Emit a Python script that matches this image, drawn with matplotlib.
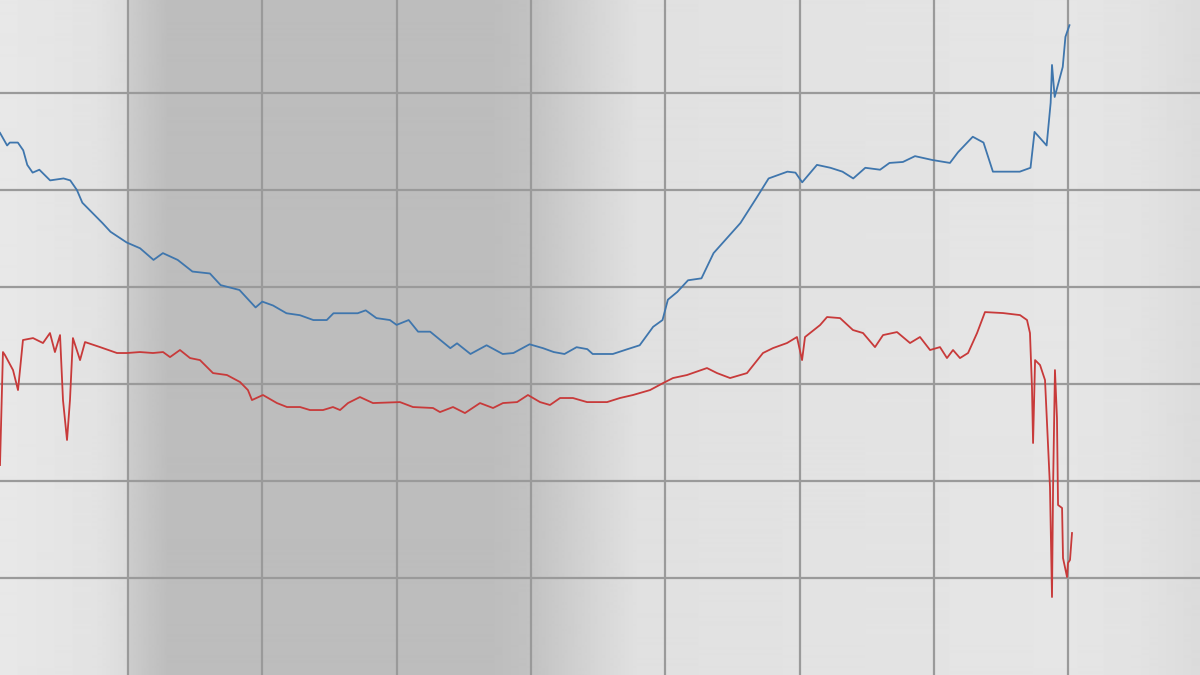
import matplotlib
matplotlib.use("Agg")
import matplotlib.pyplot as plt
import numpy as np

# --- data (grid every 10 units on both axes) ---
blue_x = [-9.53, -9.0, -8.8, -8.2, -7.8, -7.5, -7.1, -6.6, -5.8, -4.8, -4.3, -3.8, -3.4,
          -1.9, -1.3, -0.1, 0.9, 1.9, 2.6, 3.7, 4.8, 6.1, 6.9, 8.3, 9.5, 10.0, 10.8, 11.8,
          12.8, 13.8, 14.8, 15.3, 16.5, 17.1, 17.7, 18.5, 19.5, 20.0, 20.9, 21.6, 22.5,
          24.0, 24.5, 25.5, 26.7, 27.9, 28.7, 29.9, 30.9, 31.7, 32.5, 33.4, 34.2, 34.6,
          36.1, 37.2, 38.1, 39.1, 39.8, 40.2, 40.9, 41.7, 42.7, 43.6, 45.6, 46.8, 47.7,
          49.1, 49.7, 50.2, 51.3, 52.3, 53.2, 54.0, 54.9, 56.0, 56.7, 57.7, 58.6, 59.9,
          61.2, 61.8, 62.9, 63.7, 64.4, 66.4, 67.2, 67.5, 68.4, 68.7, 68.8, 69.0, 69.6,
          69.8, 70.1]
blue_y = [45.9, 44.6, 44.9, 44.9, 44.1, 42.6, 41.8, 42.1, 41.0, 41.2, 41.0, 40.0, 38.7,
          36.6, 35.7, 34.6, 34.0, 32.8, 33.5, 32.8, 31.6, 31.4, 30.2, 29.7, 27.9, 28.5,
          28.1, 27.3, 27.1, 26.6, 26.6, 27.3, 27.3, 27.3, 27.6, 26.8, 26.6, 26.1, 26.6,
          25.4, 25.4, 23.7, 24.2, 23.1, 24.0, 23.1, 23.2, 24.1, 23.7, 23.3, 23.1, 23.8,
          23.6, 23.1, 23.1, 23.6, 24.0, 25.9, 26.6, 28.7, 29.5, 30.7, 30.9, 33.5, 36.6,
          39.2, 41.2, 41.9, 41.8, 40.8, 42.6, 42.3, 41.9, 41.2, 42.3, 42.1, 42.8, 42.9,
          43.5, 43.1, 42.8, 43.9, 45.5, 44.9, 41.9, 41.9, 42.3, 46.0, 44.6, 49.0, 52.9,
          49.6, 52.7, 55.8, 57.0]

red_x = [-9.53, -9.31, -9.16, -8.56, -8.19, -7.82, -7.07, -6.33, -5.81, -5.44, -5.06,
         -4.84, -4.54, -4.32, -4.10, -3.57, -3.20, -2.08, -0.82, -0.07, 0.89, 1.86, 2.61,
         3.13, 3.87, 4.62, 5.36, 6.33, 7.37, 8.34, 8.93, 9.23, 10.05, 11.09, 11.84, 12.81,
         13.55, 14.52, 15.26, 15.79, 16.38, 17.27, 18.24, 20.25, 21.22, 22.71, 23.23,
         24.20, 25.09, 26.21, 27.18, 27.92, 28.97, 29.78, 30.68, 31.42, 32.17, 33.13,
         34.18, 35.67, 36.63, 37.60, 38.87, 39.84, 40.58, 41.62, 43.11, 43.86, 44.83,
         46.09, 47.28, 48.03, 49.07, 49.81, 50.19, 50.41, 51.53, 52.05, 53.02, 53.98,
         54.73, 55.62, 56.22, 57.26, 58.23, 58.97, 59.72, 60.46, 60.98, 61.43, 61.95,
         62.55, 63.22, 63.81, 65.15, 66.42, 66.94, 67.16, 67.31, 67.39, 67.54, 67.91,
         68.28, 68.65, 68.80, 68.88, 69.02, 69.17, 69.25, 69.55, 69.62, 69.92, 69.99,
         70.14, 70.29]
red_y = [11.65, 23.30, 22.99, 21.44, 19.38, 24.54, 24.74, 24.23, 25.26, 23.30, 25.05,
         18.35, 14.23, 18.35, 24.74, 22.47, 24.33, 23.81, 23.20, 23.20, 23.30, 23.20, 23.30,
         22.78, 23.51, 22.68, 22.47, 21.13, 20.93, 20.21, 19.38, 18.35, 18.87, 18.04, 17.63,
         17.63, 17.32, 17.32, 17.63, 17.32, 18.04, 18.66, 18.04, 18.14, 17.63, 17.53, 17.11,
         17.63, 17.01, 18.04, 17.53, 18.04, 18.14, 18.87, 18.14, 17.84, 18.56, 18.56, 18.14,
         18.14, 18.56, 18.87, 19.38, 20.10, 20.62, 20.93, 21.65, 21.13, 20.62, 21.13, 23.20,
         23.71, 24.23, 24.85, 22.47, 24.85, 26.08, 26.91, 26.80, 25.57, 25.26, 23.81, 25.05,
         25.36, 24.23, 24.85, 23.51, 23.81, 22.68, 23.51, 22.68, 23.20, 25.26, 27.42, 27.32,
         27.11, 26.60, 25.26, 19.59, 13.92, 22.47, 21.96, 20.41, 9.38, -1.96, 9.38, 21.44,
         16.49, 7.53, 7.22, 2.06, 0.10, 1.55, 1.86, 4.64]

x_grid = np.arange(0, 80, 10)
y_grid = np.arange(0, 60, 10)

# --- figure ---
fig = plt.figure(figsize=(12, 6.75), dpi=100)
ax = fig.add_axes([0, 0, 1, 1])
xlim = (-9.53, 79.82)
ylim = (-10.0, 59.6)

# background: light panel with a darker band and soft edges
bg_pos = [xlim[0], -2.5, -0.1, 0.1, 3.0, 27.0, 30.0, 35.0, 38.0, 70.0, 75.0, xlim[1]]
bg_val = [0.91, 0.89, 0.86, 0.80, 0.74, 0.74, 0.76, 0.84, 0.88, 0.90, 0.89, 0.86]
xs = np.linspace(xlim[0], xlim[1], 1200)
shade = np.interp(xs, bg_pos, bg_val)
ax.imshow(shade[np.newaxis, :], cmap="gray", vmin=0, vmax=1, aspect="auto",
          extent=(xlim[0], xlim[1], ylim[0], ylim[1]), interpolation="bilinear", zorder=0)

for gx in x_grid:
    ax.axvline(gx, color="#9a9a9a", lw=1.6, zorder=1)
for gy in y_grid:
    ax.axhline(gy, color="#9a9a9a", lw=1.6, zorder=1)

ax.plot(blue_x, blue_y, color="#3f76ad", lw=1.3, zorder=3)
ax.plot(red_x, red_y, color="#c83a3a", lw=1.3, zorder=3)

ax.set_xlim(*xlim)
ax.set_ylim(*ylim)
ax.set_axis_off()

fig.savefig("out.png", dpi=100)
plt.close(fig)
